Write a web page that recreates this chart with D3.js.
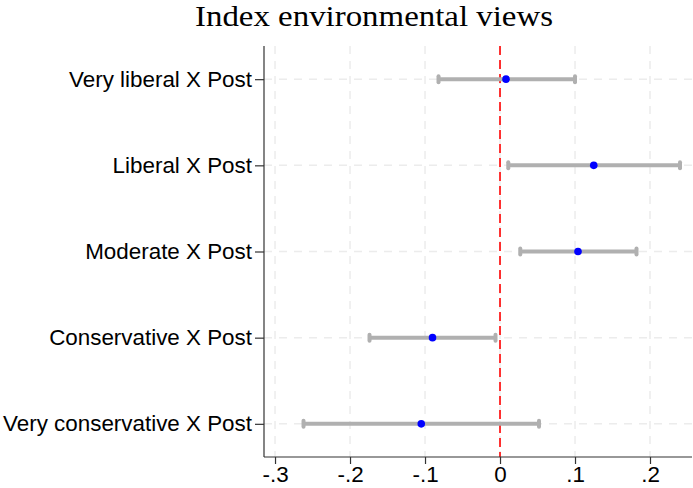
<!DOCTYPE html>
<html>
<head>
<meta charset="utf-8">
<script src="https://cdn.jsdelivr.net/npm/d3@7"></script>
<style>
  html, body { margin: 0; padding: 0; background: #fff; }
  svg { display: block; }
</style>
</head>
<body>
<svg id="chart" width="693" height="488"></svg>
<script>
// Interaction coefficients with 95% confidence intervals
const categories = [
  "Very liberal X Post",
  "Liberal X Post",
  "Moderate X Post",
  "Conservative X Post",
  "Very conservative X Post"
];
const estimates = [0.008, 0.125, 0.104, -0.090, -0.105];
const lowerCI   = [-0.082, 0.011, 0.027, -0.174, -0.262];
const upperCI   = [0.100, 0.240, 0.182, -0.006, 0.052];
const xTicks = [-0.3, -0.2, -0.1, 0, 0.1, 0.2];
const xTickLabels = ["-.3", "-.2", "-.1", "0", ".1", ".2"];
const titleText = "Index environmental views";

const svg = d3.select("#chart");
const plot = { left: 264, right: 692, top: 46, bottom: 457 };
const sans = "Liberation Sans, Arial, sans-serif";

const x = d3.scaleLinear()
  .domain([-0.3147, 0.2560])
  .range([plot.left, plot.right]);

// categories listed top to bottom
const y = d3.scaleLinear()
  .domain([-0.385, 4.385])
  .range([plot.top, plot.bottom]);

const rows = categories.map((c, i) => ({
  name: c, est: estimates[i], lo: lowerCI[i], hi: upperCI[i], pos: i
}));

// gridlines
const grid = svg.append("g");
grid.selectAll("line.vg").data(xTicks).join("line")
  .attr("x1", d => x(d)).attr("x2", d => x(d))
  .attr("y1", plot.top).attr("y2", plot.bottom)
  .attr("stroke", "#ececec").attr("stroke-width", 1.5)
  .attr("stroke-dasharray", "8,7");
grid.selectAll("line.hg").data(rows).join("line")
  .attr("x1", plot.left).attr("x2", plot.right)
  .attr("y1", d => y(d.pos)).attr("y2", d => y(d.pos))
  .attr("stroke", "#ececec").attr("stroke-width", 1.5)
  .attr("stroke-dasharray", "8,7");

// zero reference line
svg.append("line")
  .attr("x1", x(0)).attr("x2", x(0))
  .attr("y1", plot.top).attr("y2", plot.bottom)
  .attr("stroke", "#ff0000").attr("stroke-width", 1.6)
  .attr("stroke-dasharray", "9,5");

// confidence intervals with caps
const ci = svg.append("g");
ci.selectAll("line.bar").data(rows).join("line")
  .attr("x1", d => x(d.lo)).attr("x2", d => x(d.hi))
  .attr("y1", d => y(d.pos)).attr("y2", d => y(d.pos))
  .attr("stroke", "#b0b0b0").attr("stroke-width", 4);
["lo", "hi"].forEach(k => {
  ci.selectAll("line.cap-" + k).data(rows).join("line")
    .attr("x1", d => x(d[k])).attr("x2", d => x(d[k]))
    .attr("y1", d => y(d.pos) - 3).attr("y2", d => y(d.pos) + 3)
    .attr("stroke", "#b0b0b0").attr("stroke-width", 4)
    .attr("stroke-linecap", "round");
});

// point estimates
svg.append("g").selectAll("circle").data(rows).join("circle")
  .attr("cx", d => x(d.est)).attr("cy", d => y(d.pos))
  .attr("r", 3.8).attr("fill", "#0000ff");

// y axis
const yAxis = svg.append("g").attr("transform", `translate(${plot.left},0)`)
  .call(d3.axisLeft(y).tickValues(rows.map(d => d.pos))
    .tickFormat(i => categories[i]).tickSize(9).tickPadding(3));
yAxis.select(".domain").attr("d", `M0,${plot.top}V${plot.bottom}`)
  .attr("stroke", "#333").attr("stroke-width", 1.2);
yAxis.selectAll(".tick line").attr("stroke", "#333").attr("stroke-width", 1.2);
yAxis.selectAll(".tick text")
  .attr("font-family", sans)
  .attr("font-size", 22.4).attr("fill", "#000");

// x axis
const xAxis = svg.append("g").attr("transform", `translate(0,${plot.bottom})`)
  .call(d3.axisBottom(x).tickValues(xTicks)
    .tickFormat((d, i) => xTickLabels[i]).tickSize(7).tickPadding(2));
xAxis.select(".domain").attr("d", `M${plot.left},0H${plot.right}`)
  .attr("stroke", "#333").attr("stroke-width", 1.2);
xAxis.selectAll(".tick line").attr("stroke", "#333").attr("stroke-width", 1.2);
xAxis.selectAll(".tick text")
  .attr("font-family", sans)
  .attr("font-size", 22.4).attr("fill", "#000");

// title
svg.append("text")
  .attr("x", 374).attr("y", 26)
  .attr("text-anchor", "middle")
  .attr("font-family", "Liberation Serif, DejaVu Serif, serif")
  .attr("font-size", 30).attr("fill", "#000")
  .attr("textLength", 358).attr("lengthAdjust", "spacingAndGlyphs")
  .text(titleText);
</script>
</body>
</html>
